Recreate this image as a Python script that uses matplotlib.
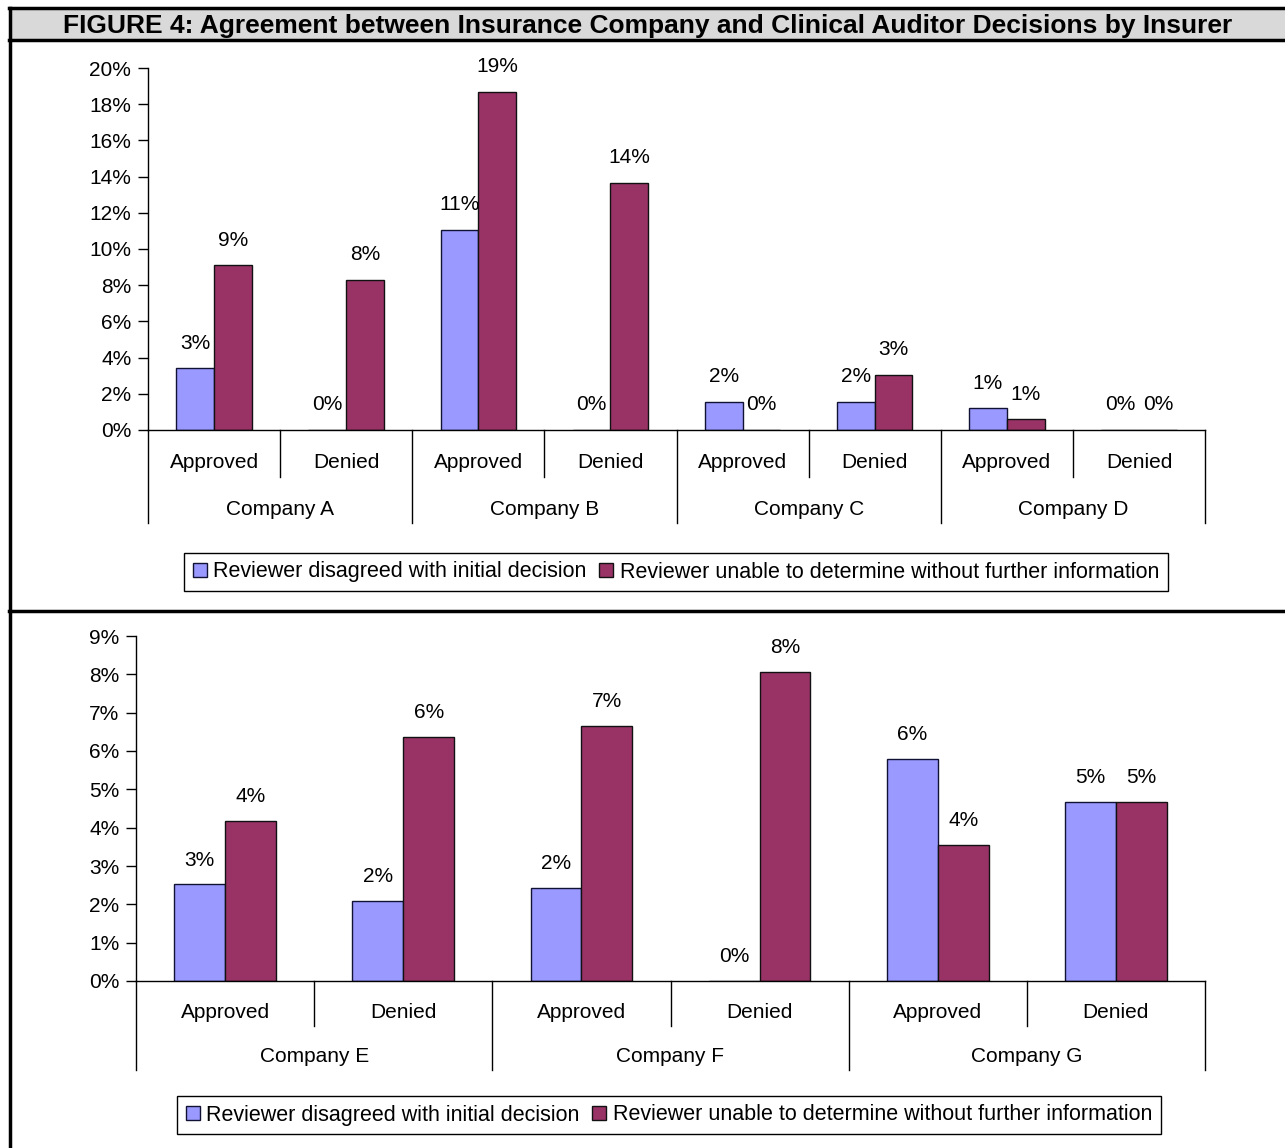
import matplotlib
matplotlib.use("Agg")
import matplotlib.pyplot as plt
from matplotlib.lines import Line2D
from matplotlib.patches import Rectangle
import matplotlib.transforms as mtransforms
import numpy as np

plt.rcParams['font.family'] = ['Liberation Sans', 'DejaVu Sans']

# ---------------- data ----------------
title = "FIGURE 4: Agreement between Insurance Company and Clinical Auditor Decisions by Insurer"
series_names = ["Reviewer disagreed with initial decision",
                "Reviewer unable to determine without further information"]
sub_labels = ["Approved", "Denied"]

top_companies = ["Company A", "Company B", "Company C", "Company D"]
top_disagreed = [0.034, 0.0, 0.1105, 0.0, 0.0155, 0.0155, 0.012, 0.0]
top_unable = [0.091, 0.083, 0.187, 0.1365, 0.0, 0.0304, 0.006, 0.0]
top_yticks = [0.0, 0.02, 0.04, 0.06, 0.08, 0.10, 0.12, 0.14, 0.16, 0.18, 0.20]

bot_companies = ["Company E", "Company F", "Company G"]
bot_disagreed = [0.0253, 0.0209, 0.0243, 0.0, 0.058, 0.0467]
bot_unable = [0.0418, 0.0637, 0.0666, 0.0807, 0.0355, 0.0467]
bot_yticks = [0.0, 0.01, 0.02, 0.03, 0.04, 0.05, 0.06, 0.07, 0.08, 0.09]

BLUE = "#9999FF"
MAROON = "#993366"

W, H = 1285, 1148
fig = plt.figure(figsize=(W / 100, H / 100), dpi=100)


def px_axes(x0, y_top, x1, y_bot):
    return fig.add_axes([x0 / W, 1 - y_bot / H, (x1 - x0) / W, (y_bot - y_top) / H])


def fig_line(x0, y0, x1, y1, lw=2.5):
    fig.add_artist(Line2D([x0 / W, x1 / W], [1 - y0 / H, 1 - y1 / H],
                          color="black", lw=lw, transform=fig.transFigure))


# frame / title bar
fig.add_artist(Rectangle((9 / W, 1 - 40 / H), (W - 9) / W, 32 / H,
                         transform=fig.transFigure, facecolor="#D9D9D9",
                         edgecolor="none"))
fig_line(9, 8, W, 8)
fig_line(9, 40, W, 40)
fig_line(10, 8, 10, H)
fig_line(9, 611, W, 611)
fig.text(648 / W, 1 - 26 / H, title, ha="center", va="center",
         fontsize=19, fontweight="bold")

FS = 15


def draw_panel(ax, companies, s1, s2, yticks, ymax, lab_fs, short_len, long_len,
               sub_y, comp_y, label_off):
    n = len(s1)
    x = np.arange(n)
    w = 1 / 3.5
    b1 = ax.bar(x - w / 2, s1, w, color=BLUE, edgecolor="#111133", linewidth=1.0)
    b2 = ax.bar(x + w / 2, s2, w, color=MAROON, edgecolor="#111111", linewidth=1.0)
    ax.set_xlim(-0.5, n - 0.5)
    ax.set_ylim(0, ymax)
    ax.set_yticks(yticks)
    ax.set_yticklabels([f"{int(round(t * 100))}%" for t in yticks])
    ax.tick_params(axis="y", direction="out", length=7, width=1, labelsize=lab_fs, pad=5)
    ax.set_xticks([])
    for s in ["top", "right"]:
        ax.spines[s].set_visible(False)
    ax.spines["left"].set_linewidth(1)
    ax.spines["bottom"].set_linewidth(1)
    ax.patch.set_alpha(0)
    # data labels
    for bars, vals in ((b1, s1), (b2, s2)):
        for rect, v in zip(bars, vals):
            ax.annotate(f"{int(round(v * 100))}%",
                        (rect.get_x() + rect.get_width() / 2, v),
                        xytext=(0, label_off), textcoords="offset pixels",
                        ha="center", va="center", fontsize=lab_fs)
    # multi-level category axis
    blend = mtransforms.blended_transform_factory(ax.transData, ax.transAxes)
    ax_h = ax.get_window_extent().height
    for i in range(n + 1):
        xb = i - 0.5
        ln = long_len if i % 2 == 0 else short_len
        ax.add_line(Line2D([xb, xb], [0, -ln / ax_h], transform=blend,
                           color="black", lw=1, clip_on=False))
    for i in range(n):
        ax.text(i, -sub_y / ax_h, sub_labels[i % 2], transform=blend,
                ha="center", va="center", fontsize=lab_fs)
    for j, c in enumerate(companies):
        ax.text(2 * j + 0.5, -comp_y / ax_h, c, transform=blend,
                ha="center", va="center", fontsize=lab_fs)
    return b1, b2


def add_legend(handles, cx, cy):
    leg = fig.legend(handles, series_names, loc="center",
                     bbox_to_anchor=(cx / W, 1 - cy / H), ncol=2, fontsize=15.5,
                     frameon=True, fancybox=False, edgecolor="black", framealpha=1,
                     handlelength=0.65, handleheight=0.65, handletextpad=0.3,
                     columnspacing=0.6, borderpad=0.4, borderaxespad=0)
    leg.get_frame().set_linewidth(1)
    return leg


ax1 = px_axes(148, 68, 1205, 430)
b1, b2 = draw_panel(ax1, top_companies, top_disagreed, top_unable, top_yticks, 0.20,
                    FS, 47, 93, 33, 80, 25)
add_legend([b1, b2], 676, 572)

ax2 = px_axes(136, 636, 1205, 981)
c1, c2 = draw_panel(ax2, bot_companies, bot_disagreed, bot_unable, bot_yticks, 0.09,
                    FS, 45, 89, 31, 75, 24)
add_legend([c1, c2], 669, 1115)

fig.savefig("out.png", dpi=100, facecolor="white")
